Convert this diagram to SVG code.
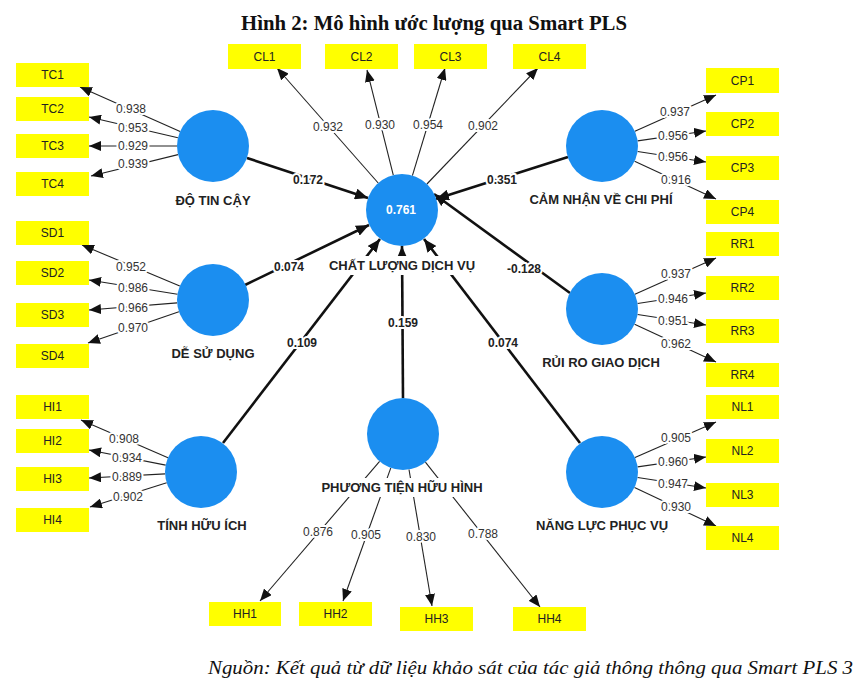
<svg xmlns="http://www.w3.org/2000/svg" width="857" height="689" viewBox="0 0 857 689">
<defs>
<style>
.box{fill:#FFFF00}
.bt{font-family:"Liberation Sans",Arial,sans-serif;font-size:12px;fill:#222;text-anchor:middle}
.lv{fill:#1B8EF0}
.nl{font-family:"Liberation Sans",Arial,sans-serif;font-size:13px;font-weight:bold;fill:#222;text-anchor:middle;paint-order:stroke;stroke:#fff;stroke-width:4px;stroke-linejoin:round}
.ld{font-family:"Liberation Sans",Arial,sans-serif;font-size:12px;fill:#333;text-anchor:middle;paint-order:stroke;stroke:#fff;stroke-width:4px;stroke-linejoin:round}
.pc{font-family:"Liberation Sans",Arial,sans-serif;font-size:12px;font-weight:bold;fill:#222;text-anchor:middle;paint-order:stroke;stroke:#fff;stroke-width:4px;stroke-linejoin:round}
.thin{stroke:#222;stroke-width:1.1;fill:none;marker-end:url(#ah)}
.thick{stroke:#111;stroke-width:2.6;fill:none;marker-end:url(#ahb)}
</style>
<marker id="ah" viewBox="0 0 12 10" refX="12" refY="5" markerWidth="12" markerHeight="10" markerUnits="userSpaceOnUse" orient="auto"><path d="M0,0 L12,5 L0,10 z" fill="#111"/></marker>
<marker id="ahb" viewBox="0 0 13 11" refX="13" refY="5.5" markerWidth="13" markerHeight="11" markerUnits="userSpaceOnUse" orient="auto"><path d="M0,0 L13,5.5 L0,11 z" fill="#111"/></marker>
</defs>
<rect width="857" height="689" fill="#fff"/>
<text x="434" y="30" font-family="Liberation Serif,'Times New Roman',serif" font-size="20" font-weight="bold" text-anchor="middle" textLength="386" lengthAdjust="spacingAndGlyphs" fill="#111">Hình 2: Mô hình ước lượng qua Smart PLS</text>

<g id="connectors">
<line class="thick" x1="247" y1="158" x2="368" y2="198"/>
<line class="thick" x1="568" y1="157" x2="436" y2="199"/>
<line class="thick" x1="245" y1="285" x2="369" y2="225"/>
<line class="thick" x1="570" y1="293" x2="434" y2="194"/>
<line class="thick" x1="223" y1="443" x2="380" y2="239"/>
<line class="thick" x1="403" y1="398" x2="402" y2="246"/>
<line class="thick" x1="580" y1="443" x2="424" y2="239"/>

<line class="thin" x1="180.1" y1="131.4" x2="80" y2="87"/>
<line class="thin" x1="177.9" y1="137.8" x2="89" y2="117"/>
<line class="thin" x1="177" y1="146" x2="89" y2="146"/>
<line class="thin" x1="178" y1="154.6" x2="91" y2="176"/>

<line class="thin" x1="179.8" y1="286.1" x2="82" y2="245"/>
<line class="thin" x1="177.5" y1="294.3" x2="89" y2="280"/>
<line class="thin" x1="177.1" y1="302.9" x2="89" y2="310"/>
<line class="thin" x1="178.9" y1="311.7" x2="88" y2="343"/>

<line class="thin" x1="168" y1="457.7" x2="81" y2="420"/>
<line class="thin" x1="165.7" y1="465.1" x2="89" y2="450"/>
<line class="thin" x1="165.1" y1="473.9" x2="89" y2="478"/>
<line class="thin" x1="166.7" y1="482.8" x2="90" y2="507"/>

<line class="thin" x1="378.2" y1="183" x2="277" y2="68"/>
<line class="thin" x1="393.3" y1="175.1" x2="367" y2="70"/>
<line class="thin" x1="412.4" y1="175.6" x2="445" y2="68"/>
<line class="thin" x1="426.9" y1="184" x2="538" y2="68"/>

<line class="thin" x1="634.9" y1="131.3" x2="716" y2="95"/>
<line class="thin" x1="637.6" y1="140.9" x2="706" y2="131"/>
<line class="thin" x1="637.6" y1="151.5" x2="706" y2="162"/>
<line class="thin" x1="634.6" y1="161.2" x2="716" y2="199"/>

<line class="thin" x1="634.9" y1="294.3" x2="716" y2="258"/>
<line class="thin" x1="637.6" y1="303.5" x2="706" y2="293"/>
<line class="thin" x1="637.6" y1="314.5" x2="706" y2="325"/>
<line class="thin" x1="634.6" y1="324.2" x2="716" y2="362"/>

<line class="thin" x1="635" y1="457.5" x2="716" y2="422"/>
<line class="thin" x1="637.6" y1="466.9" x2="706" y2="457"/>
<line class="thin" x1="637.6" y1="477.5" x2="706" y2="488"/>
<line class="thin" x1="634.5" y1="487.4" x2="716" y2="526"/>

<line class="thin" x1="379.6" y1="461.3" x2="260" y2="601"/>
<line class="thin" x1="390.8" y1="467.9" x2="343" y2="601"/>
<line class="thin" x1="409" y1="469.5" x2="432" y2="606"/>
<line class="thin" x1="425.4" y1="462.2" x2="540" y2="607"/>

<text class="pc" x="308" y="184">0.172</text>
<text class="pc" x="502" y="184">0.351</text>
<text class="pc" x="289" y="271">0.074</text>
<text class="pc" x="302" y="347">0.109</text>
<text class="pc" x="403" y="327">0.159</text>
<text class="pc" x="524" y="273">-0.128</text>
<text class="pc" x="503" y="347">0.074</text>

<text class="ld" x="131" y="113">0.938</text>
<text class="ld" x="133" y="132">0.953</text>
<text class="ld" x="133" y="150">0.929</text>
<text class="ld" x="133" y="168">0.939</text>

<text class="ld" x="131" y="271">0.952</text>
<text class="ld" x="133" y="292">0.986</text>
<text class="ld" x="133" y="312">0.966</text>
<text class="ld" x="133" y="332">0.970</text>

<text class="ld" x="124" y="443">0.908</text>
<text class="ld" x="127" y="462">0.934</text>
<text class="ld" x="127" y="481">0.889</text>
<text class="ld" x="128" y="501">0.902</text>

<text class="ld" x="328" y="131">0.932</text>
<text class="ld" x="380" y="129">0.930</text>
<text class="ld" x="428" y="129">0.954</text>
<text class="ld" x="483" y="130">0.902</text>

<text class="ld" x="675" y="116">0.937</text>
<text class="ld" x="673" y="140">0.956</text>
<text class="ld" x="673" y="161">0.956</text>
<text class="ld" x="676" y="184">0.916</text>

<text class="ld" x="676" y="278">0.937</text>
<text class="ld" x="673" y="303">0.946</text>
<text class="ld" x="673" y="325">0.951</text>
<text class="ld" x="676" y="348">0.962</text>

<text class="ld" x="676" y="442">0.905</text>
<text class="ld" x="673" y="466">0.960</text>
<text class="ld" x="673" y="488">0.947</text>
<text class="ld" x="676" y="511">0.930</text>

<text class="ld" x="318" y="536">0.876</text>
<text class="ld" x="366" y="539">0.905</text>
<text class="ld" x="421" y="541">0.830</text>
<text class="ld" x="483" y="538">0.788</text>
</g>

<g id="CLDV"><circle class="lv" cx="402" cy="210" r="36"/><text x="401" y="214" font-family="Liberation Sans,Arial,sans-serif" font-size="12" font-weight="bold" fill="#fff" text-anchor="middle">0.761</text><rect x="326" y="256" width="152" height="19" fill="#fff"/><text class="nl" x="402" y="270">CHẤT LƯỢNG DỊCH VỤ</text></g>
<g id="DTC"><circle class="lv" cx="213" cy="146" r="36"/><text class="nl" x="213" y="205">ĐỘ TIN CẬY</text></g>
<g id="CNCP"><circle class="lv" cx="602" cy="146" r="36"/><text class="nl" x="601" y="204">CẢM NHẬN VỀ CHI PHÍ</text></g>
<g id="DSD"><circle class="lv" cx="213" cy="300" r="36"/><text class="nl" x="213" y="358">DỄ SỬ DỤNG</text></g>
<g id="RRGD"><circle class="lv" cx="602" cy="309" r="36"/><text class="nl" x="601" y="367">RỦI RO GIAO DỊCH</text></g>
<g id="THI"><circle class="lv" cx="201" cy="472" r="36"/><text class="nl" x="202" y="530">TÍNH HỮU ÍCH</text></g>
<g id="PTHH"><circle class="lv" cx="403" cy="434" r="36"/><rect x="317" y="478" width="171" height="19" fill="#fff"/><text class="nl" x="402" y="492">PHƯƠNG TIỆN HỮU HÌNH</text></g>
<g id="NLPV"><circle class="lv" cx="602" cy="472" r="36"/><text class="nl" x="602" y="530">NĂNG LỰC PHỤC VỤ</text></g>

<g id="TC1"><rect class="box" x="16" y="63" width="73" height="24"/><text class="bt" x="52.5" y="79">TC1</text></g>
<g id="TC2"><rect class="box" x="16" y="97" width="73" height="24"/><text class="bt" x="52.5" y="113">TC2</text></g>
<g id="TC3"><rect class="box" x="16" y="134" width="73" height="24"/><text class="bt" x="52.5" y="150">TC3</text></g>
<g id="TC4"><rect class="box" x="16" y="172" width="73" height="24"/><text class="bt" x="52.5" y="188">TC4</text></g>
<g id="SD1"><rect class="box" x="16" y="221" width="73" height="24"/><text class="bt" x="52.5" y="237">SD1</text></g>
<g id="SD2"><rect class="box" x="16" y="261" width="73" height="24"/><text class="bt" x="52.5" y="277">SD2</text></g>
<g id="SD3"><rect class="box" x="16" y="303" width="73" height="24"/><text class="bt" x="52.5" y="319">SD3</text></g>
<g id="SD4"><rect class="box" x="16" y="344" width="73" height="24"/><text class="bt" x="52.5" y="360">SD4</text></g>
<g id="HI1"><rect class="box" x="16" y="395" width="73" height="24"/><text class="bt" x="52.5" y="411">HI1</text></g>
<g id="HI2"><rect class="box" x="16" y="429" width="73" height="24"/><text class="bt" x="52.5" y="445">HI2</text></g>
<g id="HI3"><rect class="box" x="16" y="467" width="73" height="24"/><text class="bt" x="52.5" y="483">HI3</text></g>
<g id="HI4"><rect class="box" x="16" y="508" width="73" height="24"/><text class="bt" x="52.5" y="524">HI4</text></g>

<g id="CL1"><rect class="box" x="228" y="44" width="73" height="25"/><text class="bt" x="264.5" y="61">CL1</text></g>
<g id="CL2"><rect class="box" x="325" y="44" width="73" height="25"/><text class="bt" x="361.5" y="61">CL2</text></g>
<g id="CL3"><rect class="box" x="414" y="44" width="73" height="25"/><text class="bt" x="450.5" y="61">CL3</text></g>
<g id="CL4"><rect class="box" x="513" y="44" width="73" height="25"/><text class="bt" x="549.5" y="61">CL4</text></g>

<g id="CP1"><rect class="box" x="706" y="68" width="73" height="25"/><text class="bt" x="742.5" y="85">CP1</text></g>
<g id="CP2"><rect class="box" x="706" y="112" width="73" height="24"/><text class="bt" x="742.5" y="128">CP2</text></g>
<g id="CP3"><rect class="box" x="706" y="156" width="73" height="24"/><text class="bt" x="742.5" y="172">CP3</text></g>
<g id="CP4"><rect class="box" x="706" y="200" width="73" height="24"/><text class="bt" x="742.5" y="216">CP4</text></g>
<g id="RR1"><rect class="box" x="706" y="232" width="73" height="24"/><text class="bt" x="742.5" y="248">RR1</text></g>
<g id="RR2"><rect class="box" x="706" y="276" width="73" height="24"/><text class="bt" x="742.5" y="292">RR2</text></g>
<g id="RR3"><rect class="box" x="706" y="319" width="73" height="24"/><text class="bt" x="742.5" y="335">RR3</text></g>
<g id="RR4"><rect class="box" x="706" y="363" width="73" height="24"/><text class="bt" x="742.5" y="379">RR4</text></g>
<g id="NL1"><rect class="box" x="706" y="395" width="73" height="24"/><text class="bt" x="742.5" y="411">NL1</text></g>
<g id="NL2"><rect class="box" x="706" y="439" width="73" height="24"/><text class="bt" x="742.5" y="455">NL2</text></g>
<g id="NL3"><rect class="box" x="706" y="483" width="73" height="24"/><text class="bt" x="742.5" y="499">NL3</text></g>
<g id="NL4"><rect class="box" x="706" y="526" width="73" height="24"/><text class="bt" x="742.5" y="542">NL4</text></g>

<g id="HH1"><rect class="box" x="209" y="602" width="72" height="24"/><text class="bt" x="245" y="618">HH1</text></g>
<g id="HH2"><rect class="box" x="299" y="602" width="73" height="24"/><text class="bt" x="335.5" y="618">HH2</text></g>
<g id="HH3"><rect class="box" x="400" y="607" width="73" height="24"/><text class="bt" x="436.5" y="623">HH3</text></g>
<g id="HH4"><rect class="box" x="513" y="607" width="73" height="24"/><text class="bt" x="549.5" y="623">HH4</text></g>

<text x="208" y="674" font-family="Liberation Serif,'Times New Roman',serif" font-size="18" font-style="italic" textLength="645" lengthAdjust="spacingAndGlyphs" fill="#111">Nguồn: Kết quả từ dữ liệu khảo sát của tác giả thông thông qua Smart PLS 3</text>
</svg>
